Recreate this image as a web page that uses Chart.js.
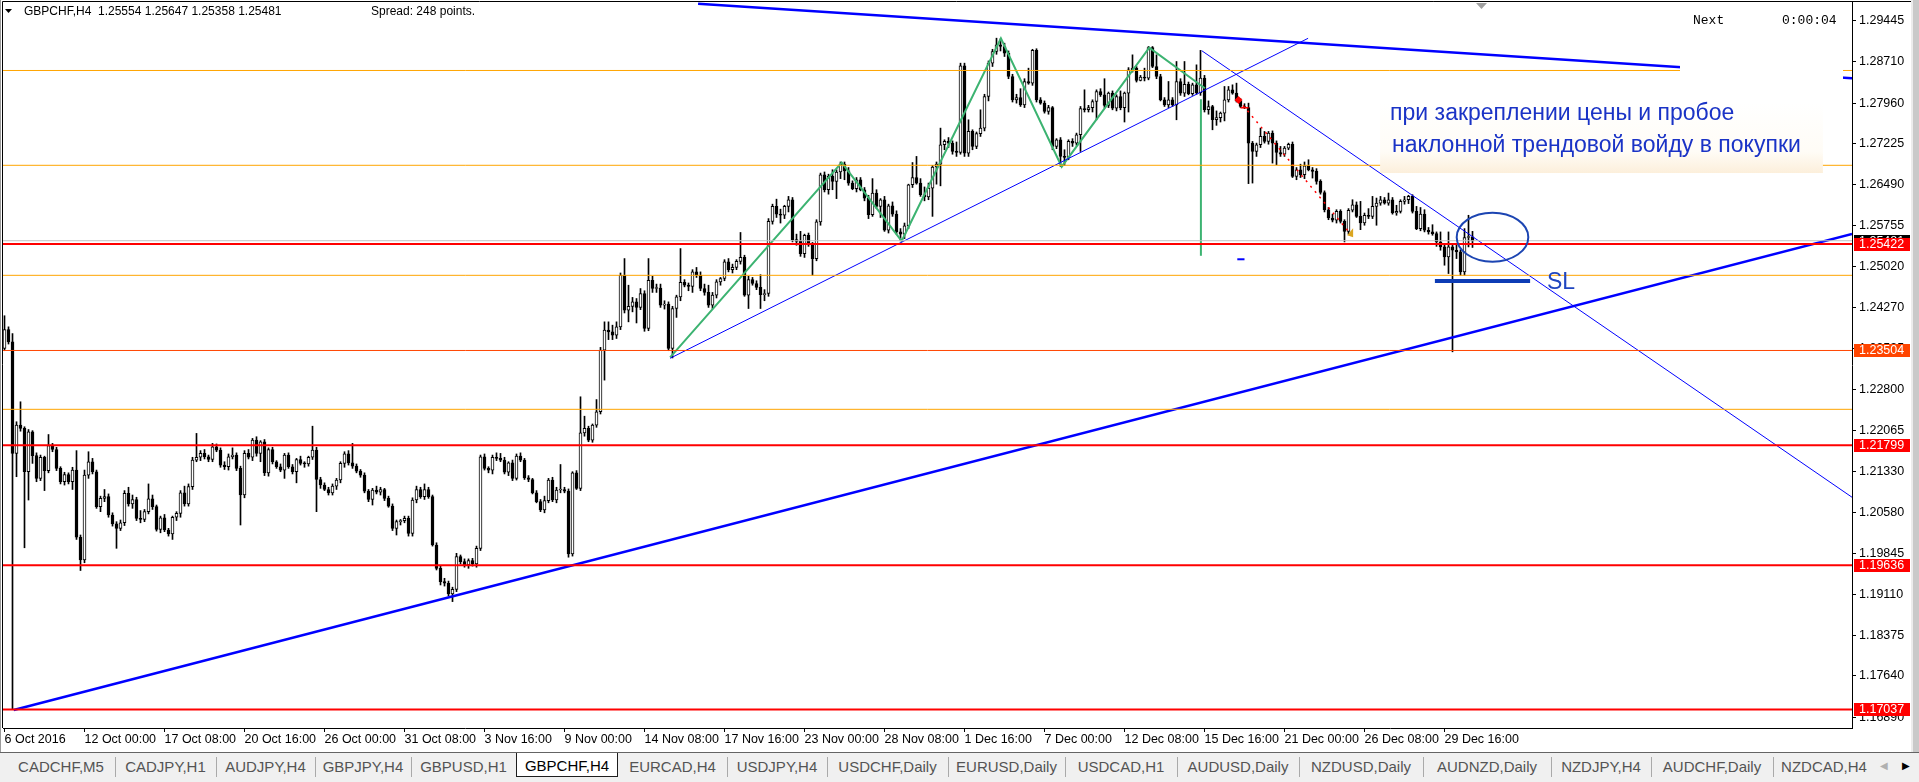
<!DOCTYPE html>
<html>
<head>
<meta charset="utf-8">
<title>GBPCHF,H4</title>
<script src="https://cdn.jsdelivr.net/npm/chart.js@4.4.1/dist/chart.umd.min.js"></script>
<style>
  body { margin:0; width:1919px; height:782px; overflow:hidden; position:relative; background:#c9c9c9; font-family:"Liberation Sans", Arial, sans-serif; }
  #wrap { position:absolute; left:0; top:0; width:1911px; height:752px; background:#fff; }
  #edge { position:absolute; left:1911px; top:0; width:2px; height:752px; background:#ececec; }
  #tabs { position:absolute; left:0; top:752px; width:1919px; height:30px; background:#f0f0f0; border-top:1px solid #646464; box-sizing:border-box; }
  .tab { position:absolute; top:0; height:24px; line-height:27px; text-align:center; font-size:15px; color:#545454; white-space:nowrap; }
  .tab.sep::before { content:''; position:absolute; left:0; top:4px; height:20px; border-left:1px solid #aaaaaa; }
  .tab.active { background:#fff; color:#000; border:1px solid #1e1e1e; border-top:none; box-sizing:border-box; height:24px; line-height:25px; }
  .arrow { position:absolute; top:7px; font-size:10px; }
</style>
</head>
<body>
<div id="wrap"><canvas id="chart"></canvas></div>
<div id="edge"></div>
<div id="tabs"></div>
<script>
// GBPCHF H4 bars from 6 Oct 2016 16:00, prices in pips above 1.0000
const opens = [
  2354,2388,2366,2165,2216,2210,2132,2204,2161,2120,2158,2134,2179,2172,2138,2114,2127,2114,2135,2014,
  1973,2126,2150,2132,2069,2084,2087,2054,2038,2030,2040,2093,2074,2082,2048,2046,2060,2083,2069,2028,
  2049,2027,2020,2050,2057,2094,2074,2105,2153,2158,2165,2159,2154,2177,2171,2144,2141,2159,2162,2138,
  2090,2165,2158,2189,2165,2186,2130,2172,2150,2141,2135,2162,2141,2132,2154,2147,2146,2158,2171,2118,
  2108,2100,2094,2106,2117,2147,2164,2148,2142,2133,2126,2097,2082,2099,2095,2100,2084,2070,2030,2042,
  2044,2048,2021,2081,2100,2087,2100,2087,2000,1958,1934,1931,1912,1920,1979,1970,1964,1972,1966,1994,
  2159,2138,2135,2158,2156,2153,2131,2148,2120,2160,2153,2121,2118,2094,2078,2063,2080,2117,2081,2099,
  2100,2097,1984,2130,2102,2202,2210,2189,2216,2240,2351,2387,2384,2378,2393,2486,2423,2430,2438,2428,
  2453,2390,2477,2462,2463,2432,2434,2354,2426,2447,2473,2468,2466,2492,2486,2462,2455,2432,2450,2474,
  2480,2510,2496,2500,2511,2518,2450,2478,2471,2464,2451,2453,2583,2610,2596,2594,2610,2622,2550,2547,
  2525,2558,2541,2516,2582,2667,2640,2664,2655,2672,2686,2674,2652,2642,2658,2640,2625,2595,2634,2610,
  2622,2567,2611,2596,2564,2560,2575,2649,2662,2652,2631,2627,2643,2681,2686,2721,2727,2724,2709,2707,
  2863,2706,2745,2718,2741,2751,2808,2868,2889,2901,2898,2886,2844,2802,2806,2793,2835,2832,2891,2802,
  2796,2781,2788,2718,2730,2700,2698,2727,2724,2739,2786,2784,2788,2799,2817,2811,2792,2814,2787,2808,
  2788,2814,2856,2859,2837,2843,2841,2896,2862,2844,2802,2793,2802,2793,2835,2814,2830,2813,2829,2815,
  2841,2784,2790,2766,2770,2778,2802,2820,2814,2800,2790,2788,2724,2709,2721,2736,2727,2742,2724,2707,
  2704,2715,2722,2664,2676,2667,2683,2676,2673,2655,2635,2604,2589,2585,2601,2583,2565,2603,2613,2592,
  2580,2594,2592,2610,2616,2622,2616,2622,2598,2601,2619,2622,2628,2601,2570,2596,2567,2564,2561,2546,
  2537,2519,2537,2531,2528,2492,2554,2555
];
const highs = [
  2413,2393,2381,2222,2258,2213,2208,2206,2166,2162,2160,2199,2183,2176,2141,2131,2130,2140,2170,2018,
  2135,2168,2156,2135,2088,2100,2092,2058,2042,2045,2098,2104,2090,2086,2062,2064,2110,2090,2072,2052,
  2055,2030,2052,2060,2098,2106,2110,2158,2201,2170,2172,2162,2183,2182,2175,2150,2164,2175,2166,2142,
  2170,2172,2192,2195,2188,2190,2175,2176,2152,2146,2165,2166,2145,2156,2160,2150,2160,2214,2176,2122,
  2112,2104,2110,2120,2150,2168,2170,2183,2146,2136,2130,2100,2102,2106,2104,2102,2088,2074,2045,2046,
  2052,2052,2085,2106,2104,2110,2104,2090,2004,1962,1940,1935,1924,1985,1982,1975,1975,1976,1998,2162,
  2164,2141,2162,2166,2165,2158,2150,2153,2164,2166,2156,2125,2120,2098,2082,2088,2120,2122,2104,2145,
  2104,2101,2132,2134,2267,2232,2214,2218,2262,2356,2402,2402,2396,2402,2490,2516,2468,2446,2444,2462,
  2458,2516,2484,2470,2470,2440,2438,2430,2450,2534,2478,2472,2496,2500,2492,2470,2468,2455,2478,2482,
  2514,2516,2506,2514,2563,2522,2484,2482,2476,2487,2460,2588,2614,2623,2605,2612,2628,2626,2560,2565,
  2560,2562,2545,2586,2670,2672,2668,2676,2676,2690,2690,2680,2656,2662,2662,2644,2630,2660,2640,2624,
  2628,2614,2618,2602,2570,2580,2650,2689,2700,2660,2645,2652,2684,2690,2751,2730,2734,2728,2726,2868,
  2868,2766,2748,2744,2784,2812,2872,2893,2913,2912,2904,2890,2848,2812,2822,2840,2859,2893,2894,2806,
  2800,2792,2790,2732,2734,2712,2730,2732,2742,2790,2820,2792,2802,2820,2822,2840,2816,2818,2811,2818,
  2816,2860,2883,2862,2846,2859,2898,2898,2883,2848,2806,2835,2806,2871,2840,2871,2834,2832,2865,2891,
  2846,2800,2792,2782,2780,2826,2826,2829,2832,2804,2795,2796,2727,2724,2751,2745,2745,2746,2728,2718,
  2718,2724,2726,2680,2686,2690,2694,2680,2678,2658,2638,2608,2596,2604,2604,2586,2606,2622,2618,2619,
  2598,2606,2628,2625,2628,2626,2634,2626,2612,2622,2628,2630,2631,2610,2608,2604,2572,2577,2564,2564,
  2540,2564,2540,2540,2532,2570,2594,2565
];
const lows = [
  2350,2362,1704,2123,2205,1995,2081,2147,2114,2116,2098,2130,2168,2134,2110,2108,2110,2100,2010,1954,
  1968,2120,2128,2066,2060,2078,2050,2034,1994,2026,2035,2070,2066,2044,2040,2042,2056,2064,2025,2022,
  2024,2016,2010,2044,2050,2070,2070,2100,2150,2152,2155,2150,2150,2168,2140,2136,2135,2155,2134,2036,
  2085,2155,2152,2160,2150,2125,2124,2146,2138,2132,2120,2138,2128,2112,2144,2140,2142,2154,2060,2102,
  2098,2090,2090,2100,2112,2140,2144,2138,2130,2122,2094,2078,2072,2092,2090,2080,2068,2026,2018,2036,
  2040,2016,2016,2076,2084,2082,2084,1998,1955,1928,1926,1908,1898,1916,1966,1960,1958,1962,1960,1990,
  2135,2130,2128,2152,2150,2128,2125,2116,2117,2150,2118,2114,2092,2076,2060,2058,2076,2078,2076,2094,
  2094,1978,1980,2100,2098,2196,2186,2185,2212,2236,2297,2370,2370,2372,2388,2418,2402,2420,2400,2424,
  2385,2386,2455,2455,2428,2425,2350,2337,2410,2440,2465,2458,2455,2482,2458,2450,2428,2426,2445,2468,
  2476,2492,2490,2496,2506,2448,2426,2468,2460,2426,2440,2448,2578,2590,2580,2588,2600,2546,2540,2520,
  2518,2538,2486,2512,2576,2636,2632,2640,2624,2660,2658,2648,2640,2636,2638,2620,2588,2592,2606,2590,
  2565,2562,2592,2560,2548,2552,2570,2644,2650,2628,2620,2622,2592,2650,2647,2712,2716,2704,2700,2704,
  2700,2700,2712,2714,2736,2746,2800,2862,2884,2890,2880,2840,2798,2796,2790,2788,2830,2828,2798,2794,
  2778,2776,2712,2714,2682,2684,2694,2718,2720,2709,2780,2780,2780,2766,2808,2788,2788,2784,2782,2784,
  2762,2780,2852,2834,2836,2836,2838,2860,2840,2800,2790,2788,2790,2766,2810,2808,2811,2810,2812,2810,
  2780,2776,2748,2756,2762,2764,2798,2812,2798,2788,2786,2651,2652,2700,2716,2724,2722,2688,2685,2700,
  2700,2712,2662,2658,2662,2660,2674,2661,2650,2632,2600,2586,2582,2580,2580,2546,2560,2600,2590,2568,
  2576,2588,2588,2576,2612,2614,2612,2596,2594,2598,2614,2615,2598,2568,2566,2564,2560,2558,2538,2531,
  2504,2489,2348,2516,2486,2486,2537,2536
];
const closes = [
  2388,2366,2165,2216,2210,2132,2204,2161,2120,2158,2134,2179,2172,2138,2114,2127,2114,2135,2014,1973,
  2126,2150,2132,2069,2084,2087,2054,2038,2030,2040,2093,2074,2082,2048,2046,2060,2083,2069,2028,2049,
  2027,2020,2050,2057,2094,2074,2105,2153,2158,2165,2159,2154,2177,2171,2144,2141,2159,2162,2138,2090,
  2165,2158,2189,2165,2186,2130,2172,2150,2141,2135,2162,2141,2132,2154,2147,2146,2158,2171,2118,2108,
  2100,2094,2106,2117,2147,2164,2148,2142,2133,2126,2097,2082,2099,2095,2100,2084,2070,2030,2042,2044,
  2048,2021,2081,2100,2087,2100,2087,2000,1958,1934,1931,1912,1920,1979,1970,1964,1972,1966,1994,2159,
  2138,2135,2158,2156,2153,2131,2148,2120,2160,2153,2121,2118,2094,2078,2063,2080,2117,2081,2099,2100,
  2097,1984,2130,2102,2202,2210,2189,2216,2240,2351,2387,2384,2378,2393,2486,2423,2430,2438,2428,2453,
  2390,2477,2462,2463,2432,2434,2354,2426,2447,2473,2468,2466,2492,2486,2462,2455,2432,2450,2474,2480,
  2510,2496,2500,2511,2518,2450,2478,2471,2464,2451,2453,2583,2610,2596,2594,2610,2622,2550,2547,2525,
  2558,2541,2516,2582,2667,2640,2664,2655,2672,2686,2674,2652,2642,2658,2640,2625,2595,2634,2610,2622,
  2567,2611,2596,2564,2560,2575,2649,2662,2652,2631,2627,2643,2681,2686,2721,2727,2724,2709,2707,2863,
  2706,2745,2718,2741,2751,2808,2868,2889,2901,2898,2886,2844,2802,2806,2793,2835,2832,2891,2802,2796,
  2781,2788,2718,2730,2700,2698,2727,2724,2739,2786,2784,2788,2799,2817,2811,2792,2814,2787,2808,2788,
  2814,2856,2859,2837,2843,2841,2896,2862,2844,2802,2793,2802,2793,2835,2814,2830,2813,2829,2815,2841,
  2784,2790,2766,2770,2778,2802,2820,2814,2800,2790,2788,2724,2709,2721,2736,2727,2742,2724,2707,2704,
  2715,2722,2664,2676,2667,2683,2676,2673,2655,2635,2604,2589,2585,2601,2583,2565,2603,2613,2592,2580,
  2594,2592,2610,2616,2622,2616,2622,2598,2601,2619,2622,2628,2601,2570,2596,2567,2564,2561,2546,2537,
  2519,2537,2531,2528,2492,2554,2555,2548
];

// time axis labels, one every 20 bars
const xLabels = ['6 Oct 2016','12 Oct 00:00','17 Oct 08:00','20 Oct 16:00','26 Oct 00:00','31 Oct 08:00',
  '3 Nov 16:00','9 Nov 00:00','14 Nov 08:00','17 Nov 16:00','23 Nov 00:00','28 Nov 08:00','1 Dec 16:00',
  '7 Dec 00:00','12 Dec 08:00','15 Dec 16:00','21 Dec 00:00','26 Dec 08:00','29 Dec 16:00'];
const yTicks = [1.29445,1.28710,1.27960,1.27225,1.26490,1.25755,1.25020,1.24270,1.23535,1.22800,
  1.22065,1.21330,1.20580,1.19845,1.19110,1.18375,1.17640,1.16890];

// horizontal levels
const redLevels = [1.25422, 1.21799, 1.19636, 1.17037];
const orangeLevels = [1.28548, 1.26840, 1.24858, 1.22444];
const orangeRedLevels = [1.23504];
const bidPrice = 1.25481;

// drawn objects, [bar, price]
const topTrend = [[173.4, 1.29751], [461.9, 1.28410]];
const baseTrend = [[2.3, 1.17027], [461.9, 1.25602]];
const riseTrend = [[166.4, 1.23363], [325.9, 1.29128]];
const fallTrend = [[299.3, 1.28905], [461.9, 1.20859]];
const zigzag = [[166.4, 1.23381], [209.3, 1.26887], [224.3, 1.25476], [249.1, 1.29128],
  [264.3, 1.26815], [286.2, 1.28959], [300.1, 1.28227]];
const greenStick = [[299.1, 1.25210], [299.1, 1.28030]];
const tradeLine = [[308.5, 1.28016], [336.4, 1.25615]];
const slLine = [[357.6, 1.24756], [381.4, 1.24756]];
const tinyDash = [[308.2, 1.25147], [310.0, 1.25147]];

const noteLines = ['при закреплении цены и пробое', 'наклонной трендовой войду в покупки'];
const noteAnchor = { left: 343.9, right: 454.6, top: 1.27980, bottom: 1.26701 };
const ellipseAnchor = { x: 372, y: 1.25545, rx: 8.95, ry: 0.00441 };
const slAnchor = { x: 385.6, y: 1.24612 };

const tabNames = ['CADCHF,M5','CADJPY,H1','AUDJPY,H4','GBPJPY,H4','GBPUSD,H1','GBPCHF,H4','EURCAD,H4',
  'USDJPY,H4','USDCHF,Daily','EURUSD,Daily','USDCAD,H1','AUDUSD,Daily','NZDUSD,Daily','AUDNZD,Daily',
  'NZDJPY,H4','AUDCHF,Daily','NZDCAD,H4'];
const tabEdges = [7,115,216,315,411,516,618,727,827,948,1065,1177,1299,1423,1551,1651,1773,1875];

const X_MIN = -0.375, X_MAX = 461.875;
const Y_MIN = 1.167031, Y_MAX = 1.297819;
const FONT = '"Liberation Sans", Arial, sans-serif';

const toPrice = v => 1 + v / 10000;
if (closes.length !== opens.length || highs.length !== opens.length || lows.length !== opens.length) {
  console.error('bar arrays differ', opens.length, highs.length, lows.length, closes.length);
}

// tabs
const tabs = document.getElementById('tabs');
tabNames.forEach((name, k) => {
  const d = document.createElement('div');
  d.className = 'tab' + (name === 'GBPCHF,H4' ? ' active' : (k > 0 && tabNames[k - 1] !== 'GBPCHF,H4' ? ' sep' : ''));
  d.style.left = tabEdges[k] + 'px';
  d.style.width = (tabEdges[k + 1] - tabEdges[k]) + 'px';
  d.textContent = name;
  tabs.appendChild(d);
});
tabs.insertAdjacentHTML('beforeend',
  '<span class="arrow" style="left:1880px;color:#b0b0b0">&#9664;</span><span class="arrow" style="left:1902px;color:#000">&#9654;</span>');

function seg(points, color, width, extra) {
  return Object.assign({
    type: 'line',
    data: points.map(p => ({ x: p[0], y: p[1] })),
    borderColor: color,
    borderWidth: width,
    pointRadius: 0,
    fill: false,
    tension: 0,
    order: -1
  }, extra || {});
}
const level = (p, color, width) => seg([[X_MIN, p], [X_MAX, p]], color, width);

const bars = opens.map((_, i) => i);
const wickData = bars.map(i => ({ x: i, y: [toPrice(lows[i]), toPrice(highs[i])] }));
const bodyData = bars.map(i => ({ x: i, y: [toPrice(opens[i]), toPrice(closes[i])] }));
const bodyFill = bars.map(i => closes[i] >= opens[i] ? '#ffffff' : '#000000');

const datasets = [
  level(bidPrice, '#c0c0c0', 1),
  ...orangeLevels.map(p => level(p, '#ffa500', 1)),
  ...orangeRedLevels.map(p => level(p, '#ff4500', 1)),
  ...redLevels.map(p => level(p, '#ff0000', 2)),
  seg(riseTrend, '#0000ff', 1),
  seg(fallTrend, '#0000ff', 1),
  seg(topTrend, '#0000ff', 2.5),
  seg(baseTrend, '#0000ff', 2.5),
  seg(zigzag, '#3cb371', 2),
  seg(greenStick, '#3cb371', 2),
  seg(tradeLine, '#ff0000', 1.5, { borderDash: [2, 5] }),
  seg(tinyDash, '#0000ff', 2),
  seg(slLine, '#0d3cb5', 4),
  {
    type: 'bar', data: bodyData, backgroundColor: bodyFill, borderColor: '#000000', borderWidth: 1,
    borderSkipped: false, barThickness: 3, minBarLength: 1, grouped: false, order: 0
  },
  {
    type: 'bar', data: wickData, backgroundColor: '#000000', borderWidth: 0,
    barThickness: 1, grouped: false, order: 1
  }
];

const overlay = {
  id: 'overlay',
  afterDatasetsDraw(chart) {
    const { ctx, chartArea: a } = chart;
    const x = chart.scales.x, y = chart.scales.y;
    ctx.save();
    ctx.beginPath();
    ctx.rect(a.left, a.top, a.right - a.left, a.bottom - a.top);
    ctx.clip();

    // note box
    const bl = x.getPixelForValue(noteAnchor.left), br = x.getPixelForValue(noteAnchor.right);
    const bt = y.getPixelForValue(noteAnchor.top), bb = y.getPixelForValue(noteAnchor.bottom);
    const g = ctx.createLinearGradient(0, bt, 0, bb);
    g.addColorStop(0, '#ffffff');
    g.addColorStop(0.7, '#fffcf6');
    g.addColorStop(1, '#fcefdb');
    ctx.fillStyle = g;
    ctx.fillRect(bl, bt, br - bl, bb - bt);
    ctx.fillStyle = '#1a33c6';
    ctx.font = '23px ' + FONT;
    ctx.textBaseline = 'alphabetic';
    ctx.fillText(noteLines[0], bl + 10, bt + 17.5);
    ctx.fillText(noteLines[1], bl + 12, bt + 50);

    // ellipse around the breakout
    const ex = x.getPixelForValue(ellipseAnchor.x), ey = y.getPixelForValue(ellipseAnchor.y);
    const erx = x.getPixelForValue(ellipseAnchor.x + ellipseAnchor.rx) - ex;
    const ery = ey - y.getPixelForValue(ellipseAnchor.y + ellipseAnchor.ry);
    ctx.beginPath();
    ctx.ellipse(ex, ey, erx, ery, 0, 0, Math.PI * 2);
    ctx.strokeStyle = '#1c45b2';
    ctx.lineWidth = 2;
    ctx.stroke();

    // SL label
    ctx.fillStyle = '#2046c0';
    ctx.font = '23px ' + FONT;
    ctx.fillText('SL', x.getPixelForValue(slAnchor.x), y.getPixelForValue(slAnchor.y));

    // trade arrows
    const sx = x.getPixelForValue(tradeLine[0][0]), sy = y.getPixelForValue(tradeLine[0][1]);
    ctx.fillStyle = '#ff0000';
    ctx.beginPath();
    ctx.moveTo(sx - 4, sy); ctx.lineTo(sx, sy - 4); ctx.lineTo(sx + 4, sy); ctx.lineTo(sx, sy + 4);
    ctx.fill();
    ctx.fillRect(sx + 2, sy + 7, 8, 1.5);
    const tx = x.getPixelForValue(tradeLine[1][0]), ty = y.getPixelForValue(tradeLine[1][1]);
    ctx.fillStyle = '#daa520';
    ctx.beginPath();
    ctx.moveTo(tx - 3, ty + 2); ctx.lineTo(tx + 3, ty - 5); ctx.lineTo(tx + 3, ty + 4);
    ctx.fill();

    // timer panel
    ctx.fillStyle = '#ffffff';
    ctx.fillRect(a.right - 172, a.top, 163, 84);
    ctx.fillStyle = '#000000';
    ctx.font = '13px "Liberation Mono", monospace';
    ctx.textBaseline = 'middle';
    ctx.fillText('Next', a.right - 159, 21);
    ctx.fillText('0:00:04', a.right - 70, 21);
    ctx.restore();
  },
  afterDraw(chart) {
    const { ctx, chartArea: a } = chart;
    const y = chart.scales.y;
    ctx.save();
    // frame
    ctx.strokeStyle = '#000000';
    ctx.lineWidth = 1;
    ctx.beginPath();
    ctx.moveTo(a.left - 0.5, a.bottom);
    ctx.lineTo(a.left - 0.5, a.top - 0.5);
    ctx.lineTo(chart.width, a.top - 0.5);
    ctx.stroke();
    ctx.fillStyle = '#9a9a9a';
    ctx.fillRect(0, 0, 1, chart.height);

    // header
    ctx.fillStyle = '#000000';
    ctx.beginPath();
    ctx.moveTo(5, 9); ctx.lineTo(12, 9); ctx.lineTo(8.5, 13);
    ctx.fill();
    ctx.font = '12px ' + FONT;
    ctx.textBaseline = 'middle';
    ctx.fillText('GBPCHF,H4  1.25554 1.25647 1.25358 1.25481', 24, 12);
    ctx.fillText('Spread: 248 points.', 371, 12);

    // chart shift marker
    ctx.fillStyle = '#a0a0a0';
    ctx.beginPath();
    ctx.moveTo(1476, 3); ctx.lineTo(1487, 3); ctx.lineTo(1481.5, 9);
    ctx.fill();

    // price tags on the axis
    const tags = [[bidPrice, '#000000']]
      .concat(redLevels.map(p => [p, '#ff0000']))
      .concat(orangeRedLevels.map(p => [p, '#ff4500']));
    ctx.font = '12.5px ' + FONT;
    tags.forEach(([p, c]) => {
      const py = Math.round(y.getPixelForValue(p));
      ctx.fillStyle = c;
      ctx.fillRect(a.right + 2, py - 6, 56, 13);
      ctx.fillStyle = '#ffffff';
      ctx.fillText(p.toFixed(5), a.right + 7, py + 0.5);
    });
    ctx.restore();
  }
};

Chart.defaults.font.family = FONT;

new Chart(document.getElementById('chart'), {
  type: 'bar',
  data: { datasets: datasets },
  options: {
    responsive: true,
    maintainAspectRatio: false,
    animation: false,
    events: [],
    layout: { padding: { left: 3, top: 2, right: 0, bottom: 0 }, autoPadding: false },
    plugins: { legend: { display: false }, tooltip: { enabled: false } },
    scales: {
      x: {
        type: 'linear',
        min: X_MIN,
        max: X_MAX,
        offset: false,
        grid: { drawOnChartArea: false, drawTicks: true, tickLength: 4, color: '#000000', offset: false },
        border: { display: true, color: '#000000' },
        ticks: {
          autoSkip: false, maxRotation: 0, align: 'start', padding: 0, color: '#000000',
          font: { size: 12.5 },
          callback: (v, idx) => xLabels[idx]
        },
        afterBuildTicks: s => { s.ticks = xLabels.map((_, k) => ({ value: k * 20 })); },
        afterFit: s => { s.height = 24; s.paddingLeft = 0; s.paddingRight = 0; }
      },
      y: {
        type: 'linear',
        position: 'right',
        min: Y_MIN,
        max: Y_MAX,
        beginAtZero: false,
        grid: { drawOnChartArea: false, drawTicks: true, tickLength: 4, color: '#000000' },
        border: { display: true, color: '#000000' },
        ticks: { padding: 3, color: '#000000', font: { size: 12.5 }, callback: v => v.toFixed(5) },
        afterBuildTicks: s => { s.ticks = yTicks.map(v => ({ value: v })); },
        afterFit: s => { s.width = 59; s.paddingTop = 0; s.paddingBottom = 0; }
      }
    }
  },
  plugins: [overlay]
});
</script>
</body>
</html>
